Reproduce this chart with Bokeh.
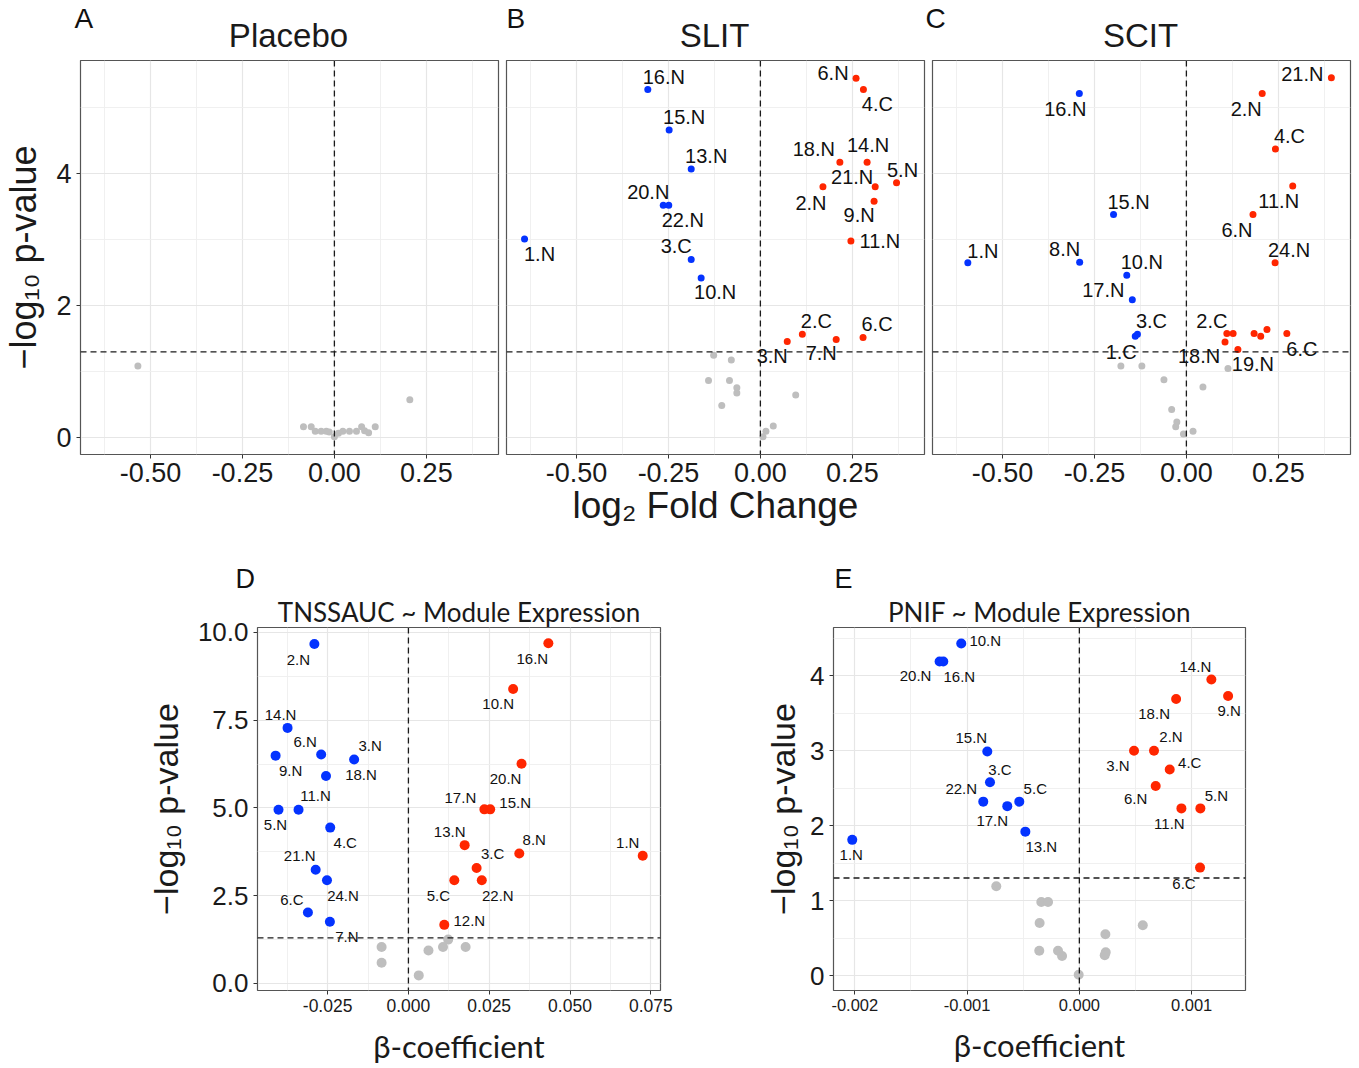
from bokeh.plotting import figure
from bokeh.layouts import row, column
from bokeh.models import FixedTicker, Span, ColumnDataSource, Range1d, Title
from bokeh.embed import file_html
from bokeh.resources import INLINE
from bokeh.core.properties import value
import math

# ---------------- DATA ----------------
p_threshold = 0.05

# A: Placebo (all non-significant)
placebo_ns_x = [-0.534, 0.205, -0.084, -0.063, -0.052, -0.036, -0.022, -0.014, 0.000, 0.011,
                0.023, 0.041, 0.060, 0.074, 0.082, 0.093, 0.111]
placebo_ns_y = [1.09, 0.58, 0.17, 0.17, 0.10, 0.10, 0.10, 0.09, 0.02, 0.07,
                0.10, 0.10, 0.10, 0.17, 0.11, 0.08, 0.17]

# B: SLIT
slit_down_labels = ["16.N", "15.N", "13.N", "20.N", "22.N", "1.N", "3.C", "10.N"]
slit_down_x = [-0.306, -0.248, -0.188, -0.264, -0.249, -0.641, -0.188, -0.161]
slit_down_y = [5.27, 4.66, 4.07, 3.52, 3.52, 3.01, 2.70, 2.42]
slit_up_labels = ["6.N", "4.C", "18.N", "14.N", "5.N", "21.N", "2.N", "9.N", "11.N", "2.C", "6.C", "7.N", "3.N"]
slit_up_x = [0.260, 0.280, 0.216, 0.290, 0.370, 0.312, 0.170, 0.309, 0.246, 0.114, 0.279, 0.206, 0.073]
slit_up_y = [5.44, 5.27, 4.17, 4.17, 3.86, 3.80, 3.80, 3.58, 2.98, 1.57, 1.52, 1.49, 1.46]
slit_ns_x = [-0.127, -0.079, -0.141, -0.084, -0.064, -0.064, -0.105, 0.096, 0.035, 0.015, 0.007]
slit_ns_y = [1.25, 1.18, 0.87, 0.87, 0.76, 0.68, 0.49, 0.65, 0.18, 0.10, 0.02]

# C: SCIT
scit_down_labels = ["16.N", "15.N", "1.N", "8.N", "10.N", "17.N", "3.C", "1.C"]
scit_down_x = [-0.291, -0.198, -0.594, -0.290, -0.162, -0.147, -0.133, -0.139]
scit_down_y = [5.21, 3.38, 2.65, 2.66, 2.46, 2.09, 1.57, 1.54]
scit_up_labels = ["21.N", "2.N", "4.C", "11.N", "6.N", "24.N", "2.C", "", "", "", "", "6.C", "18.N", "19.N"]
scit_up_x = [0.394, 0.206, 0.242, 0.289, 0.181, 0.241, 0.110, 0.127, 0.184, 0.202, 0.219, 0.273, 0.105, 0.140]
scit_up_y = [5.45, 5.21, 4.37, 3.81, 3.38, 2.65, 1.58, 1.58, 1.58, 1.54, 1.64, 1.58, 1.45, 1.34]
scit_ns_x = [-0.178, -0.121, -0.061, 0.045, 0.113, -0.040, -0.026, -0.029, -0.008, 0.018]
scit_ns_y = [1.09, 1.09, 0.88, 0.77, 1.05, 0.43, 0.24, 0.17, 0.06, 0.10]

# D: TNSSAUC ~ Module Expression
tnss_down_labels = ["2.N", "14.N", "9.N", "6.N", "3.N", "18.N", "11.N", "5.N", "4.C", "21.N", "24.N", "6.C", "7.N"]
tnss_down_x = [-0.0291, -0.0374, -0.0411, -0.0270, -0.0168, -0.0255, -0.0340, -0.0402, -0.0242, -0.0287,
               -0.0252, -0.0311, -0.0243]
tnss_down_y = [9.67, 7.28, 6.49, 6.52, 6.38, 5.91, 4.95, 4.95, 4.44, 3.24, 2.94, 2.02, 1.76]
tnss_up_labels = ["16.N", "10.N", "20.N", "17.N", "15.N", "13.N", "8.N", "1.N", "3.C", "5.C", "22.N", "12.N"]
tnss_up_x = [0.0433, 0.0324, 0.0350, 0.0235, 0.0253, 0.0174, 0.0343, 0.0725, 0.0211, 0.0142, 0.0227, 0.0111]
tnss_up_y = [9.69, 8.39, 6.26, 4.96, 4.96, 3.94, 3.70, 3.64, 3.29, 2.94, 2.94, 1.67]
tnss_ns_x = [-0.0083, -0.0083, 0.0032, 0.0062, 0.0107, 0.0123, 0.0177]
tnss_ns_y = [1.04, 0.59, 0.23, 0.94, 1.04, 1.25, 1.04]

# E: PNIF ~ Module Expression
pnif_down_labels = ["10.N", "20.N", "16.N", "15.N", "3.C", "22.N", "17.N", "5.C", "13.N", "1.N"]
pnif_down_x = [-0.001052, -0.001245, -0.001212, -0.000820, -0.000796, -0.000856, -0.000642, -0.000535,
               -0.000481, -0.002023]
pnif_down_y = [4.43, 4.19, 4.19, 2.99, 2.58, 2.32, 2.26, 2.32, 1.92, 1.81]
pnif_up_labels = ["14.N", "9.N", "18.N", "2.N", "3.N", "4.C", "6.N", "11.N", "5.N", "6.C"]
pnif_up_x = [0.001176, 0.001325, 0.000862, 0.000665, 0.000487, 0.000805, 0.000680, 0.000909, 0.001078, 0.001075]
pnif_up_y = [3.95, 3.73, 3.69, 3.00, 3.00, 2.75, 2.53, 2.23, 2.23, 1.44]
pnif_ns_x = [-0.000740, -0.000339, -0.000279, -0.000354, -0.000357, -0.000190, -0.000154, -0.000006,
             0.000232, 0.000235, 0.000226, 0.000565]
pnif_ns_y = [1.19, 0.98, 0.98, 0.70, 0.33, 0.33, 0.26, 0.01, 0.55, 0.31, 0.27, 0.67]

# Panel names / letters / axis titles
panel_letters = ["A", "B", "C", "D", "E"]
panel_titles = ["Placebo", "SLIT", "SCIT", "TNSSAUC ~ Module Expression", "PNIF ~ Module Expression"]
y_title = "\u2212log\u2081\u2080 p-value"
fc_title = "log\u2082 Fold Change"
beta_title = "\u03b2-coefficient"

# Tick labels
fc_ticks = [-0.50, -0.25, 0.00, 0.25]
fc_tick_labels = ["-0.50", "-0.25", "0.00", "0.25"]
fc_minor = [-0.625, -0.375, -0.125, 0.125, 0.375]
top_y_ticks = [0, 2, 4]
top_y_tick_labels = ["0", "2", "4"]
top_y_minor = [1, 3, 5]
tnss_x_ticks = [-0.025, 0.0, 0.025, 0.05, 0.075]
tnss_x_tick_labels = ["-0.025", "0.000", "0.025", "0.050", "0.075"]
tnss_x_minor = [-0.0375, -0.0125, 0.0125, 0.0375, 0.0625]
tnss_y_ticks = [0.0, 2.5, 5.0, 7.5, 10.0]
tnss_y_tick_labels = ["0.0", "2.5", "5.0", "7.5", "10.0"]
tnss_y_minor = [1.25, 3.75, 6.25, 8.75]
pnif_x_ticks = [-0.002, -0.001, 0.0, 0.001]
pnif_x_tick_labels = ["-0.002", "-0.001", "0.000", "0.001"]
pnif_x_minor = [-0.0015, -0.0005, 0.0005]
pnif_y_ticks = [0, 1, 2, 3, 4]
pnif_y_tick_labels = ["0", "1", "2", "3", "4"]
pnif_y_minor = [0.5, 1.5, 2.5, 3.5, 4.5]

# ---------------- label placement (screen px offsets, ggrepel-like) ----------------
slit_down_dx = [16, 15, 15, -15, 14, 15, -15, 14]
slit_down_dy = [-13, -13, -13, -13, 15, 15, -13, 14]
slit_up_dx = [-23, 14, -26, 1, 6, -23, -12, -15, 29, 14, 14, -15, -15]
slit_up_dy = [-5, 14, -13, -17, -13, -10, 16, 14, 0, -13, -13, 14, 15]
scit_down_dx = [-14, 15, 15, -15, 15, -29, 14, -14]
scit_down_dy = [15, -13, -12, -13, -13, -10, -13, 16]
scit_up_dx = [-29, -16, 14, -14, -16, 14, -15, 0, 0, 0, 0, 15, -26, 15]
scit_up_dy = [-4, 15, -13, 15, 15, -13, -13, 0, 0, 0, 0, 15, 14, 15]
tnss_down_dx = [-16, -7, 15, -16, 16, 35, 17, -3, 15, -16, 16, -16, 17]
tnss_down_dy = [15, -13, 15, -13, -14, -2, -14, 15, 15, -14, 15, -13, 15]
tnss_up_dx = [-16, -15, -16, -24, 25, -15, 15, -15, 16, -16, 16, 25]
tnss_up_dy = [15, 15, 15, -12, -7, -14, -14, -13, -14, 15, 15, -4]
pnif_down_dx = [24, -24, 16, -16, 10, -22, -15, 16, 16, -1]
pnif_down_dy = [-3, 14, 15, -14, -13, -13, 14, -13, 15, 15]
pnif_up_dx = [-16, 1, -22, 17, -16, 20, -20, -12, 16, -16]
pnif_up_dy = [-13, 15, 15, -14, 15, -7, 13, 15, -13, 16]

BLUE = "#0433FF"
RED = "#FF2600"
GRAY = "#BEBEBE"
ARIAL = "Liberation Sans"
CALIBRI = "Lato"
TXT = "#1a1a1a"


def make_panel(xr, yr, fw, fh, borders, xt, xtl, xmin, yt, ytl, ymin,
               ylabel, ylabel_size, ylabel_standoff, xlabel, xlabel_font, xlabel_size, xlabel_standoff,
               tick_size_x, tick_size_y, title=None, title_offset=0, letter=None, letter_offset=0):
    left, right, top, bottom = borders
    p = figure(x_range=xr, y_range=yr, frame_width=fw, frame_height=fh, title=None,
               min_border_left=left, min_border_right=right,
               min_border_top=top, min_border_bottom=bottom,
               output_backend="svg", toolbar_location=None,
               background_fill_color="white", border_fill_color="white")
    # first-added title sits nearest the frame; the panel letter goes outside it
    if title:
        p.add_layout(Title(text=title, align="center", offset=title_offset, standoff=0,
                           text_font=CALIBRI, text_font_size="26px", text_font_style="normal",
                           text_color=TXT), "above")
    if letter:
        p.add_layout(Title(text=letter, align="left", offset=letter_offset, standoff=0,
                           text_font=ARIAL, text_font_size="27px", text_font_style="normal",
                           text_color="#111111"), "above")
    p.outline_line_color = "#555555"
    p.outline_line_width = 1.2

    p.xaxis.ticker = FixedTicker(ticks=xt, minor_ticks=xmin)
    p.yaxis.ticker = FixedTicker(ticks=yt, minor_ticks=ymin)
    p.xaxis.major_label_overrides = {t: s for t, s in zip(xt, xtl)}
    p.yaxis.major_label_overrides = {t: s for t, s in zip(yt, ytl)}
    for ax in p.axis:
        ax.axis_line_color = None
        ax.major_tick_line_color = "#333333"
        ax.major_tick_out = 4
        ax.major_tick_in = 0
        ax.minor_tick_line_color = None
        ax.major_label_text_font = ARIAL
        ax.major_label_text_color = TXT
        ax.axis_label_text_font_style = "normal"
        ax.axis_label_text_color = TXT
    p.xaxis.major_label_text_font_size = tick_size_x
    p.yaxis.major_label_text_font_size = tick_size_y
    p.xaxis.major_label_standoff = 4
    p.yaxis.major_label_standoff = 5
    if xlabel:
        p.xaxis.axis_label = xlabel
        p.xaxis.axis_label_text_font = xlabel_font
        p.xaxis.axis_label_text_font_size = xlabel_size
        p.xaxis.axis_label_standoff = xlabel_standoff
    if ylabel:
        p.yaxis.axis_label = ylabel
        p.yaxis.axis_label_text_font = ARIAL
        p.yaxis.axis_label_text_font_size = ylabel_size
        p.yaxis.axis_label_standoff = ylabel_standoff
    else:
        p.yaxis.visible = False

    p.xgrid.grid_line_color = "#E6E6E6"
    p.ygrid.grid_line_color = "#E6E6E6"
    p.xgrid.grid_line_width = 1.2
    p.ygrid.grid_line_width = 1.2
    p.xgrid.minor_grid_line_color = "#EEEEEE"
    p.ygrid.minor_grid_line_color = "#EEEEEE"
    p.xgrid.minor_grid_line_width = 0.9
    p.ygrid.minor_grid_line_width = 0.9

    p.add_layout(Span(location=0, dimension="height", line_dash="6 4",
                      line_color=TXT, line_width=1.3))
    p.add_layout(Span(location=-math.log10(p_threshold), dimension="width",
                      line_dash="6 4", line_color=TXT, line_width=1.3))
    return p


def add_points(p, ns, groups, size, font_size):
    nsx, nsy = ns
    p.scatter(nsx, nsy, size=size, color=GRAY, line_color=None)
    for (lab, xs, ys, dxs, dys, col) in groups:
        p.scatter(xs, ys, size=size, color=col, line_color=None)
    for (lab, xs, ys, dxs, dys, col) in groups:
        src = ColumnDataSource(dict(x=xs, y=ys, t=lab, dx=dxs, dy=dys))
        p.text(x="x", y="y", text="t", x_offset="dx", y_offset="dy", source=src,
               text_align="center", text_baseline="middle",
               text_font=value(ARIAL), text_font_size=font_size, text_color="#111111")


def header(width, height, letters, letter_x, letter_mid, letter_size,
           titles, title_x, title_mid, title_font, title_size):
    h = figure(width=width, height=height, x_range=Range1d(0, width), y_range=Range1d(height, 0),
               min_border=0, output_backend="svg", toolbar_location=None, title=None,
               background_fill_color="white", border_fill_color="white")
    h.axis.visible = False
    h.grid.visible = False
    h.outline_line_color = None
    h.text(x=letter_x, y=[letter_mid] * len(letters), text=letters,
           text_align="left", text_baseline="middle",
           text_font=value(ARIAL), text_font_size=letter_size, text_color="#111111")
    h.text(x=title_x, y=[title_mid] * len(titles), text=titles,
           text_align="center", text_baseline="middle",
           text_font=value(title_font), text_font_size=title_size, text_color=TXT)
    return h


TOP_XR = (-0.69, 0.446)
TOP_YR = (-0.25, 5.71)
FW, FH = 418, 394

hTop = header(1359, 60, panel_letters[:3], [74, 506, 925], 18, "28px",
              panel_titles[:3], [288, 714, 1140], 35, ARIAL, "33px")

pA = make_panel(TOP_XR, TOP_YR, FW, FH, (79, 4, 0, 97),
                fc_ticks, fc_tick_labels, fc_minor, top_y_ticks, top_y_tick_labels, top_y_minor,
                y_title, "36px", 9, None, ARIAL, "37px", 0, "27px", "27px")
add_points(pA, (placebo_ns_x, placebo_ns_y), [], 7, "20px")

pB = make_panel(TOP_XR, TOP_YR, FW, FH, (4, 4, 0, 97),
                fc_ticks, fc_tick_labels, fc_minor, top_y_ticks, top_y_tick_labels, top_y_minor,
                None, "36px", 9, fc_title, ARIAL, "37px", 0, "27px", "27px")
add_points(pB, (slit_ns_x, slit_ns_y),
           [(slit_down_labels, slit_down_x, slit_down_y, slit_down_dx, slit_down_dy, BLUE),
            (slit_up_labels, slit_up_x, slit_up_y, slit_up_dx, slit_up_dy, RED)], 7, "20px")

pC = make_panel(TOP_XR, TOP_YR, FW, FH, (4, 8, 0, 97),
                fc_ticks, fc_tick_labels, fc_minor, top_y_ticks, top_y_tick_labels, top_y_minor,
                None, "36px", 9, None, ARIAL, "37px", 0, "27px", "27px")
add_points(pC, (scit_ns_x, scit_ns_y),
           [(scit_down_labels, scit_down_x, scit_down_y, scit_down_dx, scit_down_dy, BLUE),
            (scit_up_labels, scit_up_x, scit_up_y, scit_up_dx, scit_up_dy, RED)], 7, "20px")

pD = make_panel((-0.0467, 0.0780), (-0.2, 10.14), 403, 363, (257, 20, 76, 10),
                tnss_x_ticks, tnss_x_tick_labels, tnss_x_minor, tnss_y_ticks, tnss_y_tick_labels, tnss_y_minor,
                y_title, "34px", 10, beta_title, CALIBRI, "31px", 12, "17.5px", "26px",
                title=panel_titles[3], title_offset=-3, letter=panel_letters[3], letter_offset=-22)
add_points(pD, (tnss_ns_x, tnss_ns_y),
           [(tnss_down_labels, tnss_down_x, tnss_down_y, tnss_down_dx, tnss_down_dy, BLUE),
            (tnss_up_labels, tnss_up_x, tnss_up_y, tnss_up_dx, tnss_up_dy, RED)], 10, "15px")

pE = make_panel((-0.00219, 0.00148), (-0.2, 4.644), 412, 363, (153, 112, 76, 10),
                pnif_x_ticks, pnif_x_tick_labels, pnif_x_minor, pnif_y_ticks, pnif_y_tick_labels, pnif_y_minor,
                y_title, "34px", 5, beta_title, CALIBRI, "31px", 12, "16.5px", "26px",
                title=panel_titles[4], title_offset=-7, letter=panel_letters[4], letter_offset=1)
add_points(pE, (pnif_ns_x, pnif_ns_y),
           [(pnif_down_labels, pnif_down_x, pnif_down_y, pnif_down_dx, pnif_down_dy, BLUE),
            (pnif_up_labels, pnif_up_x, pnif_up_y, pnif_up_dx, pnif_up_dy, RED)], 10, "15px")

layout = column(hTop, row(pA, pB, pC), row(pD, pE))
open("out.html", "w").write(file_html(layout, INLINE))
